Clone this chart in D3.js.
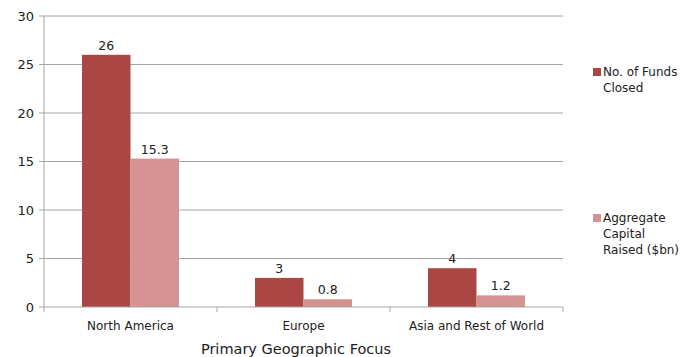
<!DOCTYPE html>
<html>
<head>
<meta charset="utf-8">
<script src="https://cdn.jsdelivr.net/npm/d3@7"></script>
<style>
  body { margin: 0; background: #fff; }
  text { font-family: "DejaVu Sans", sans-serif; fill: #222; }
</style>
</head>
<body>
<div id="chart"></div>
<script>
const regions = ["North America", "Europe", "Asia and Rest of World"];
const seriesNames = ["No. of Funds Closed", "Aggregate Capital Raised ($bn)"];
const fundsClosed = [26, 3, 4];
const capitalRaised = [15.3, 0.8, 1.2];
const valueLabels = [["26", "3", "4"], ["15.3", "0.8", "1.2"]];
const yTicks = [0, 5, 10, 15, 20, 25, 30];
const colors = ["#AA4643", "#D49392"];

const W = 681, H = 357;
const margin = {top: 16, right: 118, bottom: 50, left: 44};
const width = W - margin.left - margin.right;
const height = H - margin.top - margin.bottom;

const svg = d3.select("#chart").append("svg")
    .attr("width", W)
    .attr("height", H);
const g = svg.append("g")
    .attr("transform", "translate(" + margin.left + "," + margin.top + ")");

const x = d3.scaleBand().domain(regions).range([0, width]);
const xs = d3.scaleBand().domain([0, 1]).range([38, x.bandwidth() - 38]);
const y = d3.scaleLinear().domain([0, 30]).range([height, 0]);

// gridlines
g.selectAll(".grid").data(yTicks.filter(d => d > 0)).join("line")
    .attr("x1", 0).attr("x2", width)
    .attr("y1", d => y(d)).attr("y2", d => y(d))
    .attr("stroke", "#a6a6a6").attr("stroke-width", 1);

// y axis
g.append("line").attr("x1", 0).attr("x2", 0).attr("y1", 0).attr("y2", height)
    .attr("stroke", "#a6a6a6");
g.selectAll(".ytick").data(yTicks).join("line")
    .attr("x1", -5).attr("x2", 0)
    .attr("y1", d => y(d)).attr("y2", d => y(d))
    .attr("stroke", "#a6a6a6");
g.selectAll(".ylab").data(yTicks).join("text")
    .attr("x", -10).attr("y", d => y(d)).attr("dy", "0.35em")
    .attr("text-anchor", "end").attr("font-size", 13)
    .text(d => d);

const series = [fundsClosed, capitalRaised];
series.forEach((vals, si) => {
    g.selectAll(".bar" + si).data(vals).join("rect")
        .attr("x", (d, i) => x(regions[i]) + xs(si))
        .attr("width", xs.bandwidth())
        .attr("y", d => y(d))
        .attr("height", d => height - y(d))
        .attr("fill", colors[si]);
    g.selectAll(".val" + si).data(vals).join("text")
        .attr("x", (d, i) => x(regions[i]) + xs(si) + xs.bandwidth() / 2)
        .attr("y", d => y(d) - 5)
        .attr("text-anchor", "middle").attr("font-size", 12.5)
        .text((d, i) => valueLabels[si][i]);
});

// x axis
g.append("line").attr("x1", 0).attr("x2", width).attr("y1", height).attr("y2", height)
    .attr("stroke", "#a6a6a6");
g.selectAll(".xtick").data(d3.range(regions.length + 1)).join("line")
    .attr("x1", d => d * x.step()).attr("x2", d => d * x.step())
    .attr("y1", height).attr("y2", height + 5)
    .attr("stroke", "#a6a6a6");
g.selectAll(".xlab").data(regions).join("text")
    .attr("x", d => x(d) + x.bandwidth() / 2)
    .attr("y", height + 23)
    .attr("text-anchor", "middle").attr("font-size", 12)
    .text(d => d);
g.append("text")
    .attr("x", 296 - margin.left).attr("y", height + 47)
    .attr("text-anchor", "middle").attr("font-size", 14.5)
    .text("Primary Geographic Focus");

// legend
const legendLines = [["No. of Funds", "Closed"], ["Aggregate", "Capital", "Raised ($bn)"]];
const legendY = [72, 218];
legendLines.forEach((lines, i) => {
    const lg = svg.append("g").attr("transform", "translate(593," + legendY[i] + ")");
    lg.append("rect").attr("x", 0).attr("y", -4).attr("width", 8).attr("height", 8)
        .attr("fill", colors[i]);
    lines.forEach((t, j) => {
        lg.append("text").attr("x", 10).attr("y", j * 16).attr("dy", "0.35em")
            .attr("font-size", 12).text(t);
    });
});
</script>
</body>
</html>
